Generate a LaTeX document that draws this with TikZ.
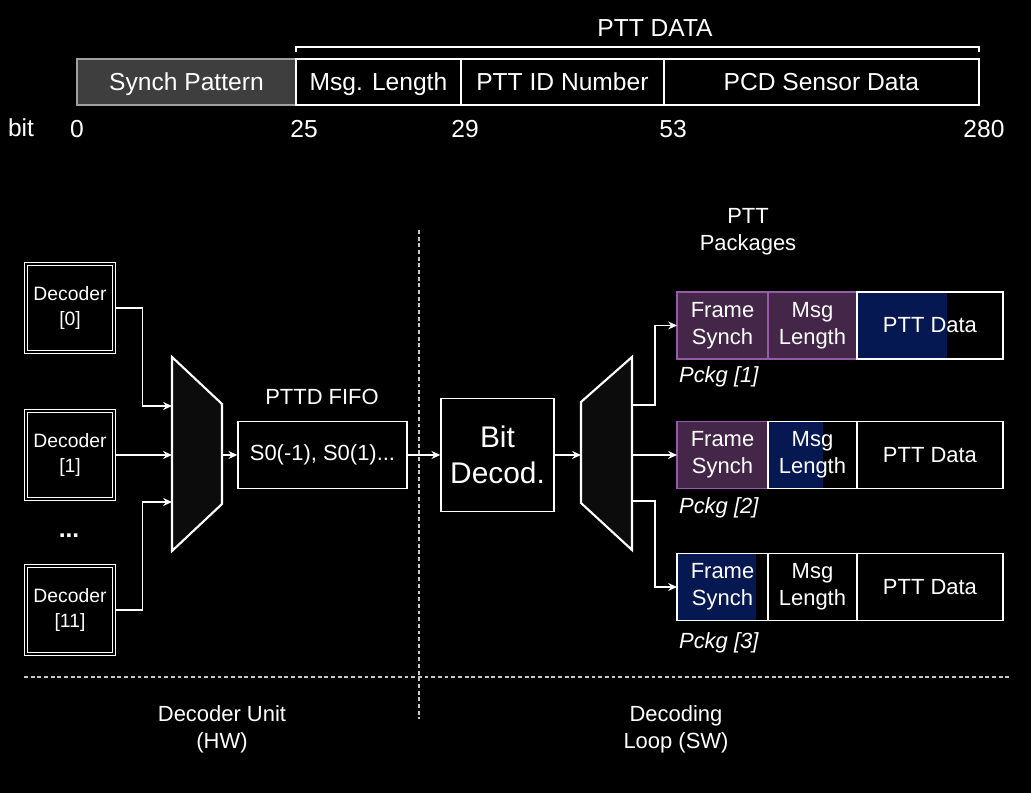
\documentclass[tikz,border=0pt]{standalone}
\usepackage{fontspec}
\setmainfont{Liberation Sans}
\usetikzlibrary{arrows.meta, positioning, calc}

\definecolor{synchgray}{RGB}{62,62,62}
\definecolor{synchline}{RGB}{160,160,160}
\definecolor{lilacfill}{RGB}{68,38,72}
\definecolor{lilacline}{RGB}{150,90,170}
\definecolor{navyfill}{RGB}{6,24,82}
\definecolor{muxfill}{RGB}{12,12,12}
\definecolor{sepgray}{RGB}{200,200,200}

\begin{document}
\begin{tikzpicture}[
  x=0.02cm, y=-0.02cm,
  field/.style={rectangle, draw=white, line width=0.8pt, text=white,
                minimum height=0.92cm, inner sep=0pt, outer sep=0pt,
                text height=10pt, text depth=0pt,
                font=\fontsize{14}{17}\selectfont},
  num/.style={text=white, anchor=base, font=\fontsize{14}{17}\selectfont},
  lbl/.style={text=white, align=center, font=\fontsize{12.5}{15.5}\selectfont},
  decbox/.style={rectangle, draw=white, double=black, double distance=1pt,
                 line width=0.6pt, minimum width=1.76cm, minimum height=1.76cm,
                 inner sep=0pt, text=white, align=center,
                 font=\fontsize{11}{14}\selectfont},
  box/.style={rectangle, draw=white, fill=black, line width=0.8pt, text=white,
              inner sep=0pt, align=center},
  pcell/.style={rectangle, draw=white, line width=0.8pt, text=white,
                minimum height=1.34cm, inner sep=0pt, outer sep=0pt,
                align=center, font=\fontsize{12.5}{15.3}\selectfont},
  fs/.style={pcell, minimum width=1.82cm},
  ml/.style={pcell, minimum width=1.78cm},
  pd/.style={pcell, minimum width=2.92cm},
  lilac/.style={fill=lilacfill, draw=lilacline},
  part/.style={path picture={\fill[navyfill] (path picture bounding box.north west)
               rectangle ([xshift=#1]path picture bounding box.south west);}},
  pck/.style={text=white, anchor=west, inner sep=1pt,
              font=\fontsize{12.5}{15}\selectfont\itshape},
  mux/.style={draw=white, fill=muxfill, line width=1.2pt, line join=miter},
  sep/.style={draw=sepgray, line width=0.8pt, dash pattern=on 2.2pt off 1.6pt},
  arr/.style={-{Stealth[length=5pt, width=4.5pt]}, draw=white, line width=0.8pt}
]
\fill[black] (0,0) rectangle (1031,793);
\useasboundingbox (0,0) rectangle (1031,793);

% message frame
\node[field, fill=synchgray, draw=synchline, minimum width=4.38cm, anchor=west]
  (synch) at (77,82) {Synch Pattern};
\node[field, minimum width=3.30cm, right=0pt of synch] (msglen) {Msg. Length};
\node[field, minimum width=4.06cm, right=0pt of msglen] (pttid) {PTT ID Number};
\node[field, minimum width=6.30cm, right=0pt of pttid] (pcd) {PCD Sensor Data};
\draw[draw=white, line width=0.8pt]
  ([yshift=0.14cm]msglen.north west) -- ([yshift=0.24cm]msglen.north west)
  -- ([yshift=0.24cm]pcd.north east) -- ([yshift=0.14cm]pcd.north east);
\node[num, anchor=center] (pttdata) at (655,28) {PTT DATA};
\node[num] (bitlbl) at (21,137) {bit};
\node[num] (b0)   at (77,138)  {0};
\node[num] (b25)  at (304,138) {25};
\node[num] (b29)  at (465,138) {29};
\node[num] (b53)  at (673,138) {53};
\node[num] (b280) at (984,138) {280};

% decoder unit (HW)
\node[decbox] (dec0)  at (70,308) {Decoder\\{[0]}};
\node[decbox] (dec1)  at (70,455) {Decoder\\{[1]}};
\node[decbox] (dec11) at (70,610) {Decoder\\{[11]}};
\node[text=white, font=\fontsize{14}{17}\selectfont\bfseries] (dots) at (69,536) {...};

\draw[mux] (172,357) -- (222,404) -- (222,504) -- (172,551) -- cycle;
\coordinate (muxAin1) at (172,406);
\coordinate (muxAin2) at (172,455);
\coordinate (muxAin3) at (172,502);
\coordinate (muxAout) at (222,455);

\node[box, minimum width=3.38cm, minimum height=1.34cm,
      font=\fontsize{12.5}{15}\selectfont] (fifo) at (322.5,455) {S0(-1), S0(1)...};
\node[lbl] (fifolbl) at (322,397) {PTTD FIFO};

\draw[arr] (dec0.east) -- ++(28,0) |- (muxAin1);
\draw[arr] (dec1.east) -- (muxAin2);
\draw[arr] (dec11.east) -- ++(28,0) |- (muxAin3);
\draw[arr] (muxAout) -- (fifo.west);

% decoding loop (SW)
\node[box, minimum width=2.26cm, minimum height=2.26cm,
      font=\fontsize{17}{20.4}\selectfont] (bitdec) at (497.5,455) {Bit\\Decod.};
\draw[arr] (fifo.east) -- (bitdec.west);

\draw[mux] (581,402) -- (632,357) -- (632,550) -- (581,503) -- cycle;
\coordinate (muxBin)   at (581,455);
\coordinate (muxBout1) at (632,405);
\coordinate (muxBout2) at (632,455);
\coordinate (muxBout3) at (632,501);
\draw[arr] (bitdec.east) -- (muxBin);

\node[lbl] (pkglbl) at (748,232) {PTT\\Packages};

\node[fs, lilac, anchor=west] (fs1) at (677,325.5) {Frame\\Synch};
\node[ml, lilac, right=0pt of fs1] (ml1) {Msg\\Length};
\node[pd, part=1.8cm, right=0pt of ml1] (pd1) {PTT Data};
\node[pck] (pck1) at ([yshift=-0.36cm]fs1.south west) {Pckg [1]};

\node[fs, lilac, anchor=west] (fs2) at (677,455) {Frame\\Synch};
\node[ml, part=1.1cm, right=0pt of fs2] (ml2) {Msg\\Length};
\node[pd, right=0pt of ml2] (pd2) {PTT Data};
\node[pck] (pck2) at ([yshift=-0.38cm]fs2.south west) {Pckg [2]};

\node[fs, part=1.58cm, anchor=west] (fs3) at (677,587) {Frame\\Synch};
\node[ml, right=0pt of fs3] (ml3) {Msg\\Length};
\node[pd, right=0pt of ml3] (pd3) {PTT Data};
\node[pck] (pck3) at ([yshift=-0.44cm]fs3.south west) {Pckg [3]};

\draw[arr] (muxBout1) -- ++(23,0) |- (fs1.west);
\draw[arr] (muxBout2) -- (fs2.west);
\draw[arr] (muxBout3) -- ++(23,0) |- (fs3.west);

% HW / SW split
\draw[sep] (419,230) -- (419,719);
\draw[sep] (24,677) -- (1012,677);
\node[lbl] (hwlbl) at (222,729) {Decoder Unit\\(HW)};
\node[lbl] (swlbl) at (676,729) {Decoding\\Loop (SW)};
\end{tikzpicture}
\end{document}
